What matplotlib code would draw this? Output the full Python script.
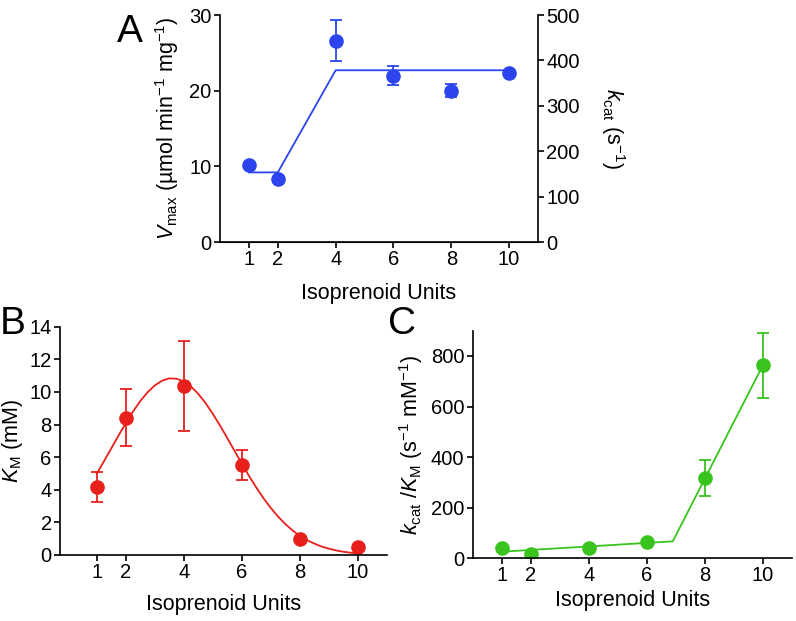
import matplotlib
matplotlib.use("Agg")
import matplotlib.pyplot as plt

plt.rcParams['font.family'] = ['Liberation Sans', 'DejaVu Sans']
plt.rcParams['mathtext.fontset'] = 'custom'
plt.rcParams['mathtext.rm'] = 'Liberation Sans'
plt.rcParams['mathtext.it'] = 'Liberation Sans:italic'

units = [1, 2, 4, 6, 8, 10]

# panel A: Vmax (left axis) / kcat (right axis)
vmax = [10.2, 8.3, 26.6, 22.0, 20.0, 22.4]
vmax_err = [0, 0, 2.7, 1.2, 0.9, 0]
vmax_fit_x = [1, 2, 4, 10]
vmax_fit_y = [9.2, 9.2, 22.7, 22.7]

# panel B: KM
km = [4.15, 8.42, 10.37, 5.5, 1.0, 0.51]
km_err = [0.92, 1.76, 2.75, 0.93, 0, 0]
km_fit_x = [1, 1.25, 1.5, 1.75, 2, 2.25, 2.5, 2.75, 3, 3.25, 3.5, 3.75, 4,
            4.25, 4.5, 4.75, 5, 5.25, 5.5, 5.75, 6, 6.25, 6.5, 6.75, 7,
            7.25, 7.5, 7.75, 8, 8.25, 8.5, 8.75, 9, 9.25, 9.5, 9.75, 10]
km_fit_y = [5.0, 5.76, 6.54, 7.33, 8.09, 8.8, 9.44, 9.98, 10.4, 10.69, 10.83,
            10.81, 10.64, 10.33, 9.88, 9.32, 8.66, 7.94, 7.17, 6.39, 5.61,
            4.85, 4.14, 3.48, 2.89, 2.36, 1.9, 1.51, 1.18, 0.91, 0.7, 0.52,
            0.39, 0.28, 0.2, 0.14, 0.1]

# panel C: kcat/KM
eff = [40, 17, 42, 63, 316, 763]
eff_err = [0, 0, 0, 0, 71, 129]
eff_fit_x = [1, 6.9, 10]
eff_fit_y = [26, 67, 762]

blue = '#2b44ee'
red = '#e8201c'
green = '#38c41c'

TICK = 14.5
LAB = 15.5


def style(ax, xlim, xpad=8):
    for s in ['top', 'right']:
        ax.spines[s].set_visible(False)
    for s in ['left', 'bottom', 'right']:
        ax.spines[s].set_linewidth(1.2)
    ax.tick_params(direction='out', length=4, width=1.2, labelsize=TICK, pad=2)
    ax.tick_params(axis='x', pad=1.5)
    ax.set_xlim(*xlim)
    ax.set_xticks(units)
    ax.set_xlabel('Isoprenoid Units', fontsize=LAB, labelpad=xpad)


fig = plt.figure(figsize=(7.96, 6.21), dpi=100)

# A
axA = fig.add_axes([0.2764, 0.6103, 0.3995, 0.3655])
axA.plot(vmax_fit_x, vmax_fit_y, color=blue, lw=1.3)
axA.errorbar(units, vmax, yerr=vmax_err, fmt='o', color=blue, ms=9.5,
             capsize=4.2, elinewidth=1.3, capthick=1.3)
style(axA, (0, 11), xpad=10)
axA.set_ylim(0, 30)
axA.set_yticks([0, 10, 20, 30])
axA.set_ylabel(r'$V_{\rm max}$ (µmol min$^{-1}$ mg$^{-1}$)', fontsize=LAB, labelpad=6)
axA2 = axA.twinx()
axA2.set_ylim(0, 500)
axA2.set_yticks([0, 100, 200, 300, 400, 500])
for s in ['top', 'left']:
    axA2.spines[s].set_visible(False)
axA2.spines['right'].set_linewidth(1.2)
axA2.tick_params(direction='out', length=4, width=1.2, labelsize=TICK, pad=2)
axA2.set_ylabel(r'$k_{\rm cat}$ (s$^{-1}$)', fontsize=LAB, rotation=270, labelpad=34)
fig.text(0.147, 0.978, 'A', fontsize=28, va='top', ha='left')

# B
axB = fig.add_axes([0.0754, 0.1063, 0.4104, 0.3676])
axB.plot(km_fit_x, km_fit_y, color=red, lw=1.3)
axB.errorbar(units, km, yerr=km_err, fmt='o', color=red, ms=9.5,
             capsize=4.2, elinewidth=1.3, capthick=1.3)
style(axB, (-0.27, 11), xpad=9)
axB.set_ylim(0, 14)
axB.set_yticks(range(0, 15, 2))
axB.set_ylabel(r'$K_{\rm M}$ (mM)', fontsize=LAB, labelpad=3)
fig.text(0.0, 0.508, 'B', fontsize=28, va='top', ha='left')

# C
axC = fig.add_axes([0.5938, 0.101, 0.4008, 0.3665])
axC.plot(eff_fit_x, eff_fit_y, color=green, lw=1.3)
axC.errorbar(units, eff, yerr=eff_err, fmt='o', color=green, ms=9.5,
             capsize=4.2, elinewidth=1.3, capthick=1.3)
style(axC, (0, 11), xpad=4)
axC.set_ylim(0, 900)
axC.set_yticks([0, 200, 400, 600, 800])
axC.set_ylabel(r'$k_{\rm cat}$ /$K_{\rm M}$ (s$^{-1}$ mM$^{-1}$)', fontsize=LAB, labelpad=4)
fig.text(0.487, 0.508, 'C', fontsize=28, va='top', ha='left')

fig.savefig('out.png', dpi=100)
